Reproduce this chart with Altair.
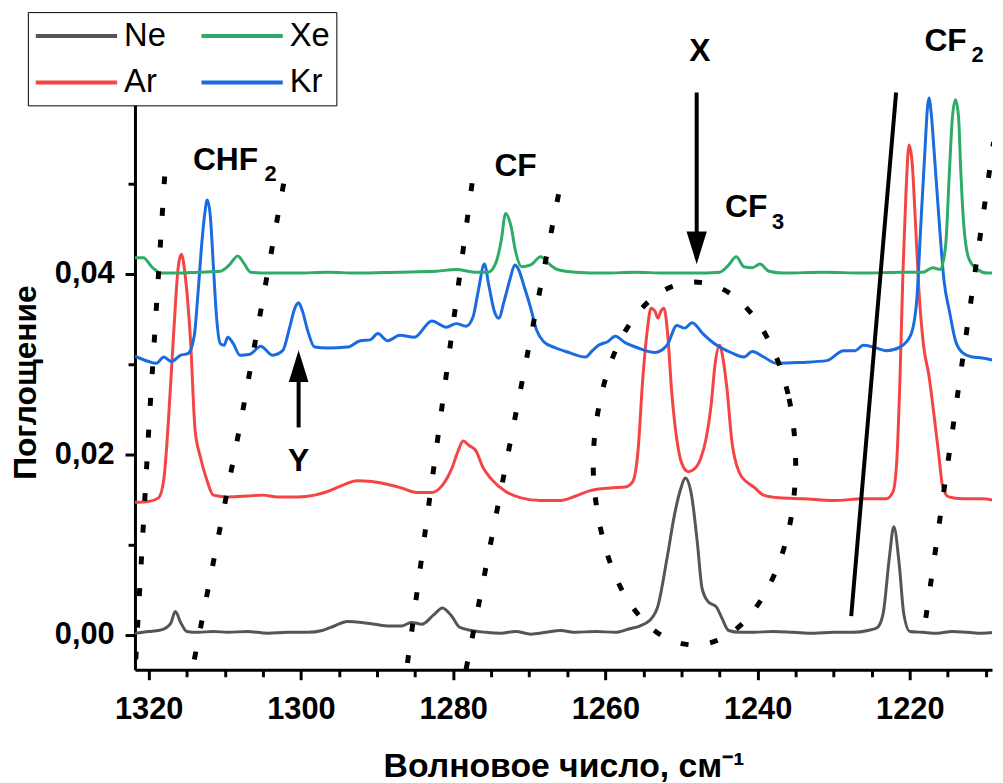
import altair as alt
import pandas as pd

# ---------------- spectra (wavenumber, absorbance) ----------------
ne_w = [1321.8, 1320.0, 1318.7, 1317.7, 1317.1, 1316.5, 1315.8, 1315.0, 1313.5, 1311.5, 1309.6, 1307.0, 1304.4,
        1301.7, 1299.1, 1297.2, 1295.6, 1293.9, 1292.0, 1290.3, 1288.4, 1286.8, 1285.5, 1284.1, 1282.6, 1281.4,
        1280.2, 1279.2, 1277.6, 1275.7, 1273.7, 1271.8, 1269.8, 1267.8, 1265.9, 1263.9, 1261.3, 1258.7, 1256.8,
        1255.5, 1254.2, 1253.1, 1251.9, 1250.9, 1250.1, 1249.5, 1248.7, 1247.9, 1247.3, 1246.5, 1245.4, 1244.7,
        1243.8, 1242.4, 1240.5, 1237.9, 1235.3, 1232.6, 1230.0, 1227.4, 1225.5, 1224.3, 1223.5, 1222.7, 1222.1,
        1221.4, 1220.8, 1220.0, 1218.3, 1216.4, 1214.4, 1212.4, 1210.5, 1208.8]
ne_a = [0.0002, 0.0004, 0.0005, 0.0008, 0.0013, 0.0026, 0.0014, 0.0004, 0.0003, 0.0004, 0.0003, 0.0004, 0.0002,
        0.0003, 0.0003, 0.0005, 0.0010, 0.0015, 0.0014, 0.0012, 0.0010, 0.0010, 0.0014, 0.0012, 0.0022, 0.0030,
        0.0021, 0.0009, 0.0005, 0.0003, 0.0002, 0.0004, 0.0001, 0.0003, 0.0005, 0.0003, 0.0004, 0.0003, 0.0007,
        0.0010, 0.0016, 0.0032, 0.0085, 0.0134, 0.0162, 0.0174, 0.0156, 0.0101, 0.0052, 0.0037, 0.0031, 0.0019,
        0.0005, 0.0003, 0.0003, 0.0004, 0.0003, 0.0002, 0.0003, 0.0003, 0.0005, 0.0008, 0.0024, 0.0085, 0.0120,
        0.0079, 0.0024, 0.0004, 0.0003, 0.0002, 0.0004, 0.0003, 0.0002, 0.0003]

ar_w = [1321.8, 1320.0, 1318.7, 1318.0, 1317.4, 1316.7, 1316.1, 1315.7, 1315.2, 1314.5, 1313.9, 1313.2, 1312.4,
        1311.5, 1309.6, 1307.0, 1305.0, 1303.1, 1300.4, 1298.2, 1296.5, 1294.8, 1292.6, 1290.7, 1288.7, 1286.8,
        1284.8, 1282.8, 1281.5, 1280.2, 1279.3, 1278.7, 1277.9, 1277.0, 1276.1, 1275.0, 1273.1, 1271.1, 1268.5,
        1265.9, 1263.9, 1262.0, 1259.4, 1257.4, 1256.4, 1255.7, 1255.1, 1254.5, 1254.0, 1253.5, 1253.1, 1252.7,
        1252.3, 1251.8, 1251.3, 1250.6, 1250.0, 1249.1, 1248.3, 1247.5, 1246.8, 1246.1, 1245.6, 1245.0, 1244.5,
        1244.0, 1243.4, 1242.4, 1241.5, 1240.5, 1239.2, 1237.2, 1234.0, 1230.0, 1226.1, 1223.1, 1222.2, 1221.7,
        1221.3, 1220.9, 1220.5, 1220.1, 1219.7, 1219.3, 1218.8, 1218.2, 1217.5, 1216.9, 1216.2, 1215.7, 1214.9,
        1213.1, 1210.5, 1208.8]
ar_a = [0.0147, 0.0148, 0.0152, 0.0173, 0.0238, 0.0337, 0.0409, 0.0422, 0.0398, 0.0326, 0.0227, 0.0197, 0.0173,
        0.0155, 0.0153, 0.0154, 0.0155, 0.0153, 0.0153, 0.0155, 0.0159, 0.0165, 0.0171, 0.0170, 0.0167, 0.0163,
        0.0158, 0.0158, 0.0165, 0.0184, 0.0205, 0.0215, 0.0210, 0.0204, 0.0186, 0.0173, 0.0159, 0.0152, 0.0149,
        0.0149, 0.0154, 0.0160, 0.0163, 0.0164, 0.0170, 0.0205, 0.0282, 0.0337, 0.0362, 0.0359, 0.0351, 0.0359,
        0.0362, 0.0332, 0.0271, 0.0216, 0.0191, 0.0181, 0.0184, 0.0195, 0.0216, 0.0255, 0.0299, 0.0321, 0.0304,
        0.0271, 0.0216, 0.0180, 0.0170, 0.0164, 0.0155, 0.0152, 0.0151, 0.0149, 0.0151, 0.0151, 0.0159, 0.0195,
        0.0282, 0.0403, 0.0491, 0.0543, 0.0524, 0.0464, 0.0381, 0.0321, 0.0288, 0.0249, 0.0200, 0.0165, 0.0153,
        0.0151, 0.0151, 0.0149]

kr_w = [1321.8, 1320.0, 1319.0, 1318.0, 1317.0, 1315.8, 1314.8, 1314.0, 1313.5, 1313.0, 1312.6, 1312.3, 1311.9,
        1311.5, 1311.1, 1310.6, 1310.1, 1309.6, 1308.9, 1308.0, 1306.7, 1305.3, 1303.7, 1302.4, 1301.5, 1300.8,
        1300.3, 1299.8, 1299.1, 1298.2, 1296.5, 1293.9, 1292.2, 1290.9, 1289.9, 1288.6, 1287.0, 1285.1, 1282.8,
        1280.9, 1279.6, 1278.3, 1277.4, 1276.7, 1275.9, 1275.3, 1274.6, 1274.0, 1273.3, 1272.5, 1271.9, 1271.4,
        1270.7, 1269.9, 1269.0, 1268.1, 1266.5, 1264.8, 1262.6, 1261.7, 1260.9, 1259.7, 1258.7, 1257.4, 1255.7,
        1253.5, 1251.9, 1250.6, 1249.6, 1248.6, 1247.2, 1245.7, 1243.5, 1241.8, 1240.7, 1239.2, 1237.5, 1234.3,
        1230.9, 1228.7, 1227.2, 1226.1, 1224.8, 1223.1, 1221.3, 1219.9, 1219.1, 1218.6, 1218.1, 1217.5, 1217.2,
        1216.8, 1216.1, 1215.5, 1214.8, 1214.0, 1213.1, 1211.8, 1210.5, 1208.8]
kr_a = [0.0309, 0.0303, 0.0301, 0.0308, 0.0303, 0.0310, 0.0312, 0.0332, 0.0381, 0.0436, 0.0469, 0.0482, 0.0464,
        0.0409, 0.0354, 0.0323, 0.0321, 0.0330, 0.0323, 0.0310, 0.0311, 0.0320, 0.0310, 0.0315, 0.0340, 0.0362,
        0.0368, 0.0359, 0.0337, 0.0319, 0.0318, 0.0319, 0.0326, 0.0327, 0.0334, 0.0326, 0.0332, 0.0330, 0.0348,
        0.0341, 0.0345, 0.0342, 0.0352, 0.0381, 0.0411, 0.0387, 0.0359, 0.0351, 0.0370, 0.0395, 0.0410, 0.0405,
        0.0387, 0.0365, 0.0337, 0.0325, 0.0318, 0.0313, 0.0308, 0.0315, 0.0321, 0.0325, 0.0331, 0.0324, 0.0318,
        0.0313, 0.0321, 0.0343, 0.0340, 0.0346, 0.0334, 0.0323, 0.0313, 0.0308, 0.0314, 0.0308, 0.0301, 0.0302,
        0.0304, 0.0315, 0.0315, 0.0321, 0.0319, 0.0315, 0.0319, 0.0332, 0.0370, 0.0447, 0.0524, 0.0595, 0.0579,
        0.0535, 0.0453, 0.0392, 0.0359, 0.0326, 0.0313, 0.0308, 0.0307, 0.0304]

xe_w = [1321.8, 1320.7, 1319.6, 1318.4, 1316.1, 1313.5, 1310.6, 1309.4, 1308.3, 1307.5, 1306.6, 1304.4, 1300.4,
        1296.5, 1292.6, 1287.4, 1282.2, 1279.6, 1277.2, 1275.4, 1274.4, 1273.7, 1273.1, 1272.4, 1271.8, 1271.0,
        1269.8, 1268.5, 1267.5, 1266.3, 1263.9, 1260.0, 1256.1, 1252.2, 1248.3, 1245.0, 1243.9, 1242.8, 1241.8,
        1240.7, 1239.7, 1238.5, 1236.6, 1231.3, 1226.1, 1220.9, 1218.3, 1217.0, 1216.0, 1215.3, 1214.8, 1214.4,
        1214.0, 1213.6, 1213.3, 1212.9, 1212.2, 1211.1, 1209.8, 1208.8]
xe_a = [0.0418, 0.0418, 0.0408, 0.0401, 0.0401, 0.0402, 0.0403, 0.0410, 0.0420, 0.0412, 0.0402, 0.0401, 0.0401,
        0.0402, 0.0401, 0.0402, 0.0403, 0.0405, 0.0402, 0.0402, 0.0412, 0.0436, 0.0467, 0.0453, 0.0425, 0.0408,
        0.0410, 0.0419, 0.0412, 0.0405, 0.0402, 0.0401, 0.0402, 0.0401, 0.0401, 0.0402, 0.0409, 0.0419, 0.0408,
        0.0407, 0.0411, 0.0403, 0.0401, 0.0402, 0.0401, 0.0402, 0.0402, 0.0407, 0.0405, 0.0431, 0.0513, 0.0574,
        0.0593, 0.0574, 0.0513, 0.0453, 0.0416, 0.0405, 0.0401, 0.0401]

# legend is filled column by column: Ne/Ar in column 1, Xe/Kr in column 2
gases = ["Ne", "Ar", "Xe", "Kr"]
gas_colors = ["#555555", "#f54444", "#2eab67", "#1a6ae0"]

# ---------------- annotations (in data units) ----------------
dot_group = ["chf_l", "chf_l", "chf_l", "chf_r", "chf_r", "chf_r", "cf_l", "cf_l", "cf_r", "cf_r", "cf2_r", "cf2_r"]
dot_w = [1317.9, 1319.9, 1321.7, 1302.1, 1307.9, 1314.0, 1277.1, 1286.0, 1265.9, 1278.3, 1209.0, 1217.9]
dot_a = [0.0508, 0.0241, -0.0027, 0.0508, 0.0236, -0.0027, 0.0526, -0.0031, 0.0499, -0.0038, 0.0546, 0.0019]

ell_w = [1235.0, 1236.0, 1238.9, 1243.2, 1248.3, 1253.4, 1257.7, 1260.5, 1261.6, 1260.5, 1257.7, 1253.4,
         1248.3, 1243.2, 1238.9, 1236.0]
ell_a = [0.0190, 0.0267, 0.0332, 0.0376, 0.0391, 0.0376, 0.0332, 0.0267, 0.0190, 0.0113, 0.0048, 0.0004,
         -0.0011, 0.0004, 0.0048, 0.0113]

solid_w = [1221.8, 1227.7]
solid_a = [0.0601, 0.0021]

shaft_w = [1248.0, 1300.3]
shaft_a1 = [0.0601, 0.0282]
shaft_a2 = [0.0442, 0.0230]
head_down_w, head_down_a = [1248.0], [0.0429]
head_up_w, head_up_a = [1300.3], [0.0298]

label_text = ["CHF", "CF", "CF", "CF", "X", "Y"]
label_w = [1309.9, 1271.8, 1241.5, 1215.3, 1247.6, 1300.3]
label_a = [0.0526, 0.0520, 0.0474, 0.0658, 0.0647, 0.0193]
sub_text = ["2", "3", "2"]
sub_w = [1304.0, 1237.3, 1211.1]
sub_a = [0.0511, 0.0458, 0.0643]

# ---------------- build tables ----------------
frames = []
for name, ws, vals in [("Ne", ne_w, ne_a), ("Ar", ar_w, ar_a), ("Kr", kr_w, kr_a), ("Xe", xe_w, xe_a)]:
    assert len(ws) == len(vals), name
    frames.append(pd.DataFrame({"w": ws, "a": vals, "gas": name}))
spectra = pd.concat(frames, ignore_index=True)

dots = pd.DataFrame({"w": dot_w, "a": dot_a, "grp": dot_group})
ell = pd.DataFrame({"w": ell_w, "a": ell_a, "ord": list(range(len(ell_w)))})
solid = pd.DataFrame({"w": solid_w, "a": solid_a})
shafts = pd.DataFrame({"w": shaft_w, "a": shaft_a1, "a2": shaft_a2})
heads_down = pd.DataFrame({"w": head_down_w, "a": head_down_a})
heads_up = pd.DataFrame({"w": head_up_w, "a": head_up_a})
labels = pd.DataFrame({"w": label_w, "a": label_a, "t": label_text})
subs = pd.DataFrame({"w": sub_w, "a": sub_a, "t": sub_text})

FONT = "Liberation Sans"

x_enc = alt.X(
    "w:Q",
    scale=alt.Scale(domain=[1209.2, 1321.8], reverse=True, nice=False, zero=False),
    axis=alt.Axis(
        values=list(range(1210, 1321, 5)),
        format="d",
        labelExpr="datum.value % 20 === 0 ? datum.label : ''",
        tickSize={"condition": {"test": "datum.value % 20 === 0", "value": 10}, "value": 7},
        tickWidth=3, tickColor="black",
        domainColor="black", domainWidth=3,
        labelFont=FONT, labelFontSize=31, labelFontWeight="bold", labelColor="black",
        labelPadding=15, labelFlush=False, labelOverlap=False,
        grid=False,
        title="Волновое число, см⁻¹",
        titleFont=FONT, titleFontSize=34, titleFontWeight="bold", titleColor="black",
        titleBaseline="alphabetic", titleY=108,
    ),
)
y_enc = alt.Y(
    "a:Q",
    scale=alt.Scale(domain=[-0.00385, 0.0678], nice=False, zero=False),
    axis=alt.Axis(
        values=[0, 0.01, 0.02, 0.03, 0.04, 0.05, 0.06],
        labelExpr="(round(datum.value*100) % 2 === 0 && datum.value < 0.05) ? replace(format(datum.value, '.2f'), '.', ',') : ''",
        tickSize={"condition": {"test": "round(datum.value*100) % 2 === 0", "value": 10}, "value": 7},
        tickWidth=3, tickColor="black",
        domainColor="black", domainWidth=3,
        labelFont=FONT, labelFontSize=31, labelFontWeight="bold", labelColor="black",
        labelPadding=11, labelOverlap=False,
        grid=False,
        title="Поглощение",
        titleFont=FONT, titleFontSize=32, titleFontWeight="bold", titleColor="black",
        titleAngle=270, titleBaseline="alphabetic", titleAlign="center",
        titleX=-100, titleY=362,
    ),
)

lines = alt.Chart(spectra).mark_line(strokeWidth=3, interpolate="monotone", clip=True).encode(
    x=x_enc, y=y_enc,
    color=alt.Color(
        "gas:N",
        scale=alt.Scale(domain=gases, range=gas_colors),
        legend=alt.Legend(
            title=None, orient="none", legendX=-108, legendY=-11, columns=2,
            symbolType="M-1,0L4.125,0", symbolSize=1024, symbolStrokeWidth=4,
            labelFont=FONT, labelFontSize=33, labelColor="black", labelOffset=55,
            padding=6, rowPadding=12, columnPadding=27,
            strokeColor="black", fillColor="white",
        ),
    ),
)

dotted = alt.Chart(dots).mark_line(color="black", strokeWidth=5, strokeDash=[8, 24], clip=True).encode(
    x=x_enc, y=y_enc, detail="grp:N"
)
ellipse = alt.Chart(ell).mark_line(color="black", strokeWidth=5, strokeDash=[8, 22], clip=True,
                                   interpolate="cardinal-closed").encode(
    x=x_enc, y=y_enc, order="ord:Q"
)
solid_line = alt.Chart(solid).mark_line(color="black", strokeWidth=4, clip=True).encode(x=x_enc, y=y_enc)
shaft_rules = alt.Chart(shafts).mark_rule(color="black", strokeWidth=4).encode(x=x_enc, y=y_enc, y2="a2:Q")
down_heads = alt.Chart(heads_down).mark_point(
    shape="M-0.62,-1L0.62,-1L0,1Z", size=1089, filled=True, color="black", opacity=1, strokeWidth=0
).encode(x=x_enc, y=y_enc)
up_heads = alt.Chart(heads_up).mark_point(
    shape="M-0.62,1L0.62,1L0,-1Z", size=1024, filled=True, color="black", opacity=1, strokeWidth=0
).encode(x=x_enc, y=y_enc)
texts = alt.Chart(labels).mark_text(
    font=FONT, fontSize=32, fontWeight="bold", color="black", align="center", baseline="middle"
).encode(x=x_enc, y=y_enc, text="t:N")
sub_texts = alt.Chart(subs).mark_text(
    font=FONT, fontSize=22, fontWeight="bold", color="black", align="center", baseline="middle"
).encode(x=x_enc, y=y_enc, text="t:N")

chart = alt.layer(
    lines, dotted, ellipse, solid_line, shaft_rules, down_heads, up_heads, texts, sub_texts
).properties(
    width=864, height=652,
    autosize=alt.AutoSizeParams(type="none"),
    padding={"left": 128, "top": 12, "right": 3, "bottom": 115},
).configure_view(stroke=None)

chart.save("out.html", embed_options={"renderer": "svg", "actions": False})
